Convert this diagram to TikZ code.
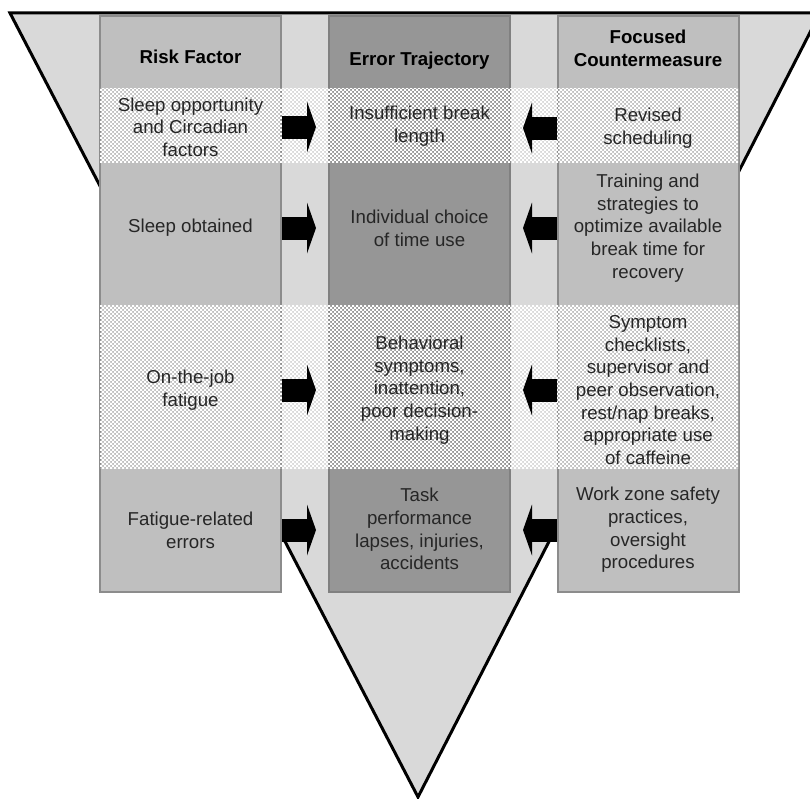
\documentclass[tikz,border=0pt]{standalone}
\usepackage{fontspec}
\setmainfont{Liberation Sans}
\usepackage{tikz}
\usetikzlibrary{arrows.meta,patterns}

\definecolor{funnelgray}{HTML}{D9D9D9}
\definecolor{colgray}{HTML}{BFBFBF}
\definecolor{midgray}{HTML}{969696}
\definecolor{rulegray}{HTML}{8C8C8C}
\definecolor{textgray}{HTML}{262626}

% fine white checker for the shaded rows
\pgfdeclarepatternformonly{finechecker}{\pgfqpoint{-.1pt}{-.1pt}}{\pgfqpoint{3pt}{3pt}}{\pgfqpoint{3pt}{3pt}}{%
  \pgfpathrectangle{\pgfqpoint{0pt}{0pt}}{\pgfqpoint{1.5pt}{1.5pt}}%
  \pgfpathrectangle{\pgfqpoint{1.5pt}{1.5pt}}{\pgfqpoint{1.5pt}{1.5pt}}%
  \pgfusepath{fill}}

\begin{document}
\begin{tikzpicture}[x=0.75pt,y=-0.75pt,
    funnel/.style={fill=funnelgray,draw=black,line width=2.25pt,line join=miter},
    column/.style={draw=rulegray,line width=1.5pt,fill=colgray,inner sep=0pt,
      minimum width=135.75pt,minimum height=432pt},
    band/.style={pattern=finechecker,pattern color=white},
    cell/.style={align=center,text=textgray,font=\fontsize{14}{17}\selectfont},
    head/.style={align=center,text=black,font=\bfseries\fontsize{14}{17}\selectfont},
    flow/.style={line width=17.25pt,shorten >=9pt,
      -{Triangle[width=38.25pt,length=6.75pt,line width=0pt]}}]
    \useasboundingbox (0,0) rectangle (810,799);

    \draw[funnel] (10,13) -- (820,13) -- (418,797) -- cycle;

    \node[column] (lcol) at (190.5,304) {};
    \node[column,fill=midgray,draw=gray] (tcol) at (419.5,304) {};
    \node[column] (ccol) at (648,304) {};

    \fill[band] (100,89) rectangle (738,162);
    \fill[band] (100,305) rectangle (738,468);

    \node[head] (hrisk) at (190.5,57) {Risk Factor};
    \node[head] (htraj) at (419.5,61) {Error Trajectory};
    \node[head] (hcm) at (648,48) {Focused\\Countermeasure};

    \node[cell] (risk1) at (190.5,127) {Sleep opportunity\\and Circadian\\factors};
    \node[cell] (traj1) at (419.5,126.5) {Insufficient break\\length};
    \node[cell] (cm1) at (648,128) {Revised\\scheduling};

    \node[cell] (risk2) at (190.5,228) {Sleep obtained};
    \node[cell] (traj2) at (419.5,228) {Individual choice\\of time use};
    \node[cell] (cm2) at (648,228) {Training and\\strategies to\\optimize available\\break time for\\recovery};

    \node[cell] (risk3) at (190.5,390) {On-the-job\\fatigue};
    \node[cell] (traj3) at (419.5,390) {Behavioral\\symptoms,\\inattention,\\poor decision-\\making};
    \node[cell] (cm3) at (648,390) {Symptom\\checklists,\\supervisor and\\peer observation,\\rest/nap breaks,\\appropriate use\\of caffeine};

    \node[cell] (risk4) at (190.5,530) {Fatigue-related\\errors};
    \node[cell] (traj4) at (419.5,529) {Task\\performance\\lapses, injuries,\\accidents};
    \node[cell] (cm4) at (648,530) {Work zone safety\\practices,\\oversight\\procedures};

    \foreach \r in {1,...,4} {
      \draw[flow] (risk\r -| lcol.east) -- (risk\r -| tcol.west);
      \draw[flow] (cm\r -| ccol.west) -- (cm\r -| tcol.east);
    }
\end{tikzpicture}
\end{document}
